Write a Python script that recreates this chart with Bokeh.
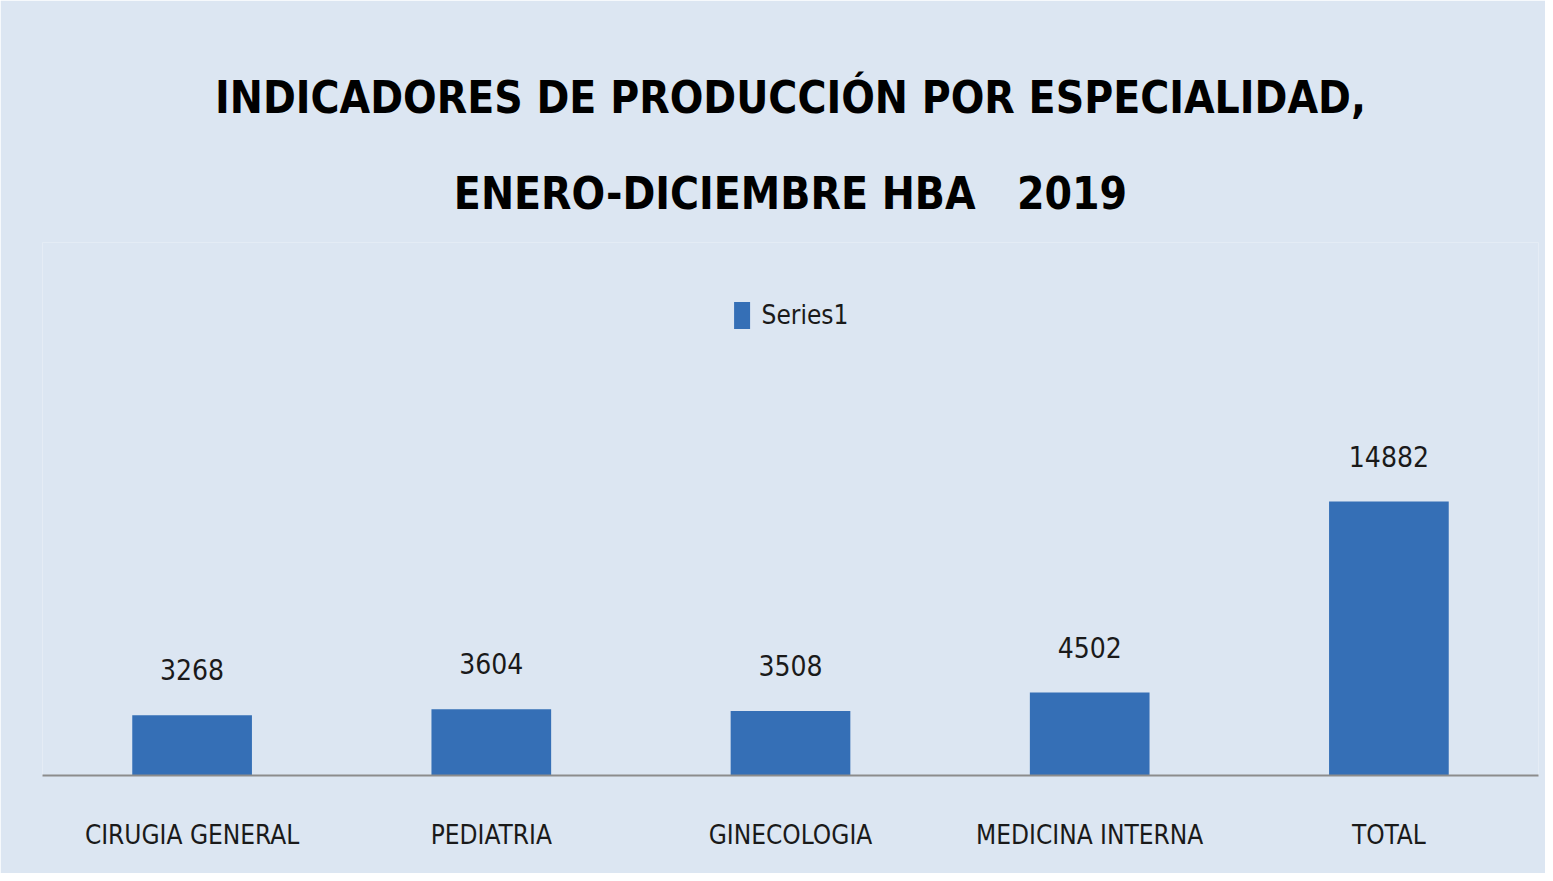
from bokeh.plotting import figure
from bokeh.models import ColumnDataSource, LabelSet, Title, Range1d, FactorRange
from bokeh.core.properties import value
from bokeh.embed import file_html
from bokeh.resources import INLINE

categories = ["CIRUGIA GENERAL", "PEDIATRIA", "GINECOLOGIA", "MEDICINA INTERNA", "TOTAL"]
values = [3268, 3604, 3508, 4502, 14882]
series_name = "Series1"
title_line1 = "INDICADORES DE PRODUCCIÓN POR ESPECIALIDAD,"
title_line2 = "ENERO-DICIEMBRE HBA \u00a0\u00a02019"

BG = "#DCE6F2"
BAR = "#356FB6"
FONT = "'DejaVu Sans Condensed', 'Liberation Sans Narrow', Roboto, sans-serif"

src = ColumnDataSource(dict(cat=categories, val=values, lab=[str(v) for v in values]))

p = figure(x_range=FactorRange(*categories, range_padding=0), y_range=Range1d(0, 28950),
           width=1545, height=873, output_backend="svg", toolbar_location=None,
           min_border_left=42, min_border_right=7, min_border_bottom=98, min_border_top=242)
p.title = None
p.background_fill_color = BG
p.border_fill_color = BG
p.outline_line_color = None
p.xgrid.grid_line_color = None
p.ygrid.grid_line_color = None
p.yaxis.visible = False

p.vbar(x="cat", top="val", width=0.4, source=src, fill_color=BAR, line_color=None,
       legend_label=series_name)

labels = LabelSet(x="cat", y="val", text="lab", source=src, text_align="center",
                  text_baseline="alphabetic", y_offset=35, text_font=value(FONT),
                  text_font_size="28px", text_color="#1a1a1a")
p.add_layout(labels)

ax = p.xaxis[0]
ax.axis_line_color = "#8C8C8C"
ax.axis_line_width = 2
ax.major_tick_line_color = None
ax.minor_tick_line_color = None
ax.major_label_standoff = 38
ax.major_label_text_font = FONT
ax.major_label_text_font_size = "26px"
ax.major_label_text_color = "#1a1a1a"

t2 = Title(text=title_line2, align="center", text_font=FONT, text_font_style="bold",
           text_font_size="44px", text_color="#000000", standoff=47)
t1 = Title(text=title_line1, align="center", text_font=FONT, text_font_style="bold",
           text_font_size="44px", text_color="#000000", standoff=40)
p.add_layout(t2, "above")
p.add_layout(t1, "above")

lg = p.legend[0]
lg.location = "top_center"
lg.orientation = "horizontal"
lg.background_fill_alpha = 0
lg.border_line_color = None
lg.label_text_font = FONT
lg.label_text_font_size = "26px"
lg.label_text_color = "#1a1a1a"
lg.glyph_width = 20
lg.glyph_height = 34
lg.margin = 56
lg.padding = 6
lg.label_standoff = 10

open("out.html", "w").write(file_html(p, INLINE))
